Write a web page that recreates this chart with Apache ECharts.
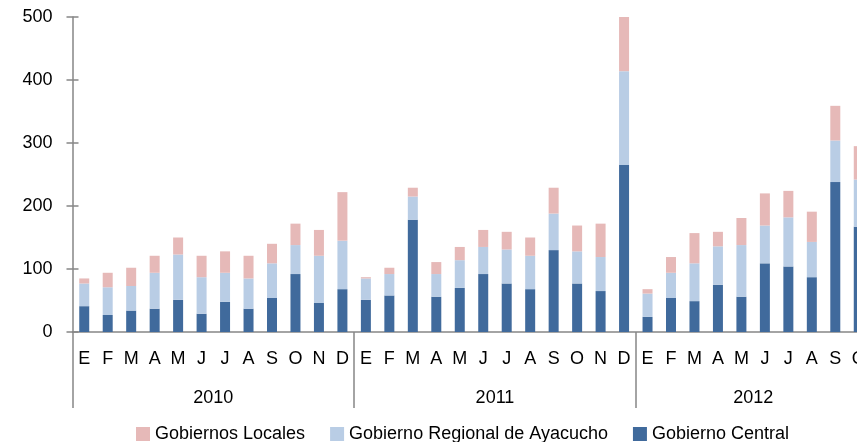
<!DOCTYPE html>
<html>
<head>
<meta charset="utf-8">
<script src="https://cdn.jsdelivr.net/npm/echarts@6/dist/echarts.min.js"></script>
<style>
  html, body { margin: 0; padding: 0; background: #fff; }
  #chart { width: 857px; height: 442px; }
</style>
</head>
<body>
<div id="chart"></div>
<script>
var months = ['E','F','M','A','M','J','J','A','S','O','N','D',
              'E','F','M','A','M','J','J','A','S','O','N','D',
              'E','F','M','A','M','J','J','A','S','O'];
var years = ['2010', '2011', '2012'];
var yearMiddles = [6, 18, 29];      // centre of each year group, in months
var yearBounds = [0, 12, 24, 34];

var central = [41, 27, 34, 37, 51, 29, 48, 37, 54, 92, 46, 68,
               51, 58, 178, 56, 70, 92, 77, 68, 130, 77, 65, 265,
               24, 54, 49, 75, 56, 109, 104, 87, 238, 167];
var regional = [36, 44, 39, 57, 72, 58, 46, 48, 55, 46, 75, 77,
                34, 34, 37, 36, 44, 43, 54, 53, 58, 51, 54, 149,
                37, 40, 60, 61, 82, 60, 78, 56, 66, 75];
var locales = [8, 23, 29, 27, 27, 34, 34, 36, 31, 34, 41, 77,
               2, 10, 14, 19, 21, 27, 28, 29, 41, 41, 53, 86,
               7, 25, 48, 23, 43, 51, 42, 48, 55, 53];

var axisGray = '#868686';
var font = 'Liberation Sans, Arial, sans-serif';

var chart = echarts.init(document.getElementById('chart'));

var option = {
    animation: false,
    grid: {
        left: 72.5,
        top: 17,
        width: 798,
        height: 315,
        outerBoundsMode: 'none'
    },
    legend: {
        data: ['Gobiernos Locales', 'Gobierno Regional de Ayacucho', 'Gobierno Central'],
        left: 131,
        top: 420,
        icon: 'rect',
        itemWidth: 14,
        itemHeight: 14,
        itemGap: 25,
        textStyle: { fontFamily: font, fontSize: 18, color: '#000' }
    },
    xAxis: [{
        type: 'category',
        data: months,
        boundaryGap: true,
        axisLine: { lineStyle: { color: axisGray, width: 1.5 } },
        axisTick: { interval: 0, length: 37, lineStyle: { color: axisGray, width: 1.5 } },
        axisLabel: { interval: 0, margin: 18, fontFamily: font, fontSize: 18, color: '#000' }
    }, {
        type: 'value',
        position: 'bottom',
        min: 0,
        max: 34,
        axisLine: { show: false },
        splitLine: { show: false },
        axisTick: {
            show: true,
            length: 76,
            customValues: yearBounds,
            lineStyle: { color: axisGray, width: 1.5 }
        },
        axisLabel: {
            margin: 57,
            customValues: yearMiddles,
            formatter: function (v) {
                return years[yearMiddles.indexOf(v)];
            },
            fontFamily: font,
            fontSize: 18,
            color: '#000'
        }
    }],
    yAxis: [{
        type: 'value',
        min: 0,
        max: 500,
        interval: 100,
        splitLine: { show: false },
        axisLine: { show: true, lineStyle: { color: axisGray, width: 1.5 } },
        axisTick: { show: true, length: 6, lineStyle: { color: axisGray, width: 1.5 } },
        axisLabel: { margin: 20, fontFamily: font, fontSize: 18, color: '#000' }
    }, {
        // second axis only for the inner half of the crossing ticks
        type: 'value',
        position: 'left',
        min: 0,
        max: 500,
        interval: 100,
        splitLine: { show: false },
        axisLine: { show: false },
        axisTick: { show: true, inside: true, length: 6, lineStyle: { color: axisGray, width: 1.5 } },
        axisLabel: { show: false }
    }],
    series: [{
        name: 'Gobierno Central',
        type: 'bar',
        stack: 'total',
        barWidth: 10,
        data: central,
        itemStyle: { color: '#406a9c' }
    }, {
        name: 'Gobierno Regional de Ayacucho',
        type: 'bar',
        stack: 'total',
        barWidth: 10,
        data: regional,
        itemStyle: { color: '#b9cde5' }
    }, {
        name: 'Gobiernos Locales',
        type: 'bar',
        stack: 'total',
        barWidth: 10,
        data: locales,
        itemStyle: { color: '#e6b9b8' }
    }]
};

chart.setOption(option);
</script>
</body>
</html>
